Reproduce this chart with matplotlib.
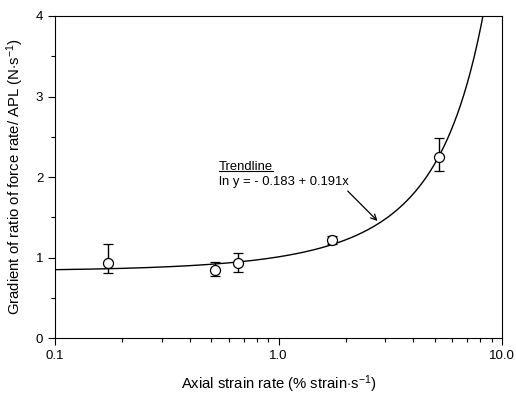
import numpy as np
import matplotlib
matplotlib.use("Agg")
import matplotlib.pyplot as plt
from matplotlib.ticker import FixedLocator, NullFormatter
from matplotlib.lines import Line2D

plt.rcParams['font.family'] = ['Liberation Sans', 'DejaVu Sans']
plt.rcParams['mathtext.fontset'] = 'custom'
plt.rcParams['mathtext.rm'] = 'Liberation Sans'
plt.rcParams['mathtext.it'] = 'Liberation Sans:italic'
plt.rcParams['mathtext.bf'] = 'Liberation Sans:bold'

# Data
strain_rate = [0.173, 0.52, 0.66, 1.74, 5.2]
gradient = [0.935, 0.84, 0.93, 1.22, 2.245]
err_low = [0.125, 0.065, 0.11, 0.05, 0.165]
err_high = [0.235, 0.10, 0.12, 0.05, 0.235]

# Trendline: ln y = a + b x
trend_a = -0.183
trend_b = 0.191

fig = plt.figure(figsize=(5.16, 3.94), dpi=100)
ax = fig.add_axes([0.1066, 0.1421, 0.8663, 0.8173])

xs = np.logspace(-1, 1, 400)
ax.plot(xs, np.exp(trend_a + trend_b * xs), color='black', lw=1.0, zorder=2)

ax.errorbar(strain_rate, gradient, yerr=[err_low, err_high], fmt='o',
            mfc='white', mec='black', ms=7.2, mew=0.9, ecolor='black',
            elinewidth=1.0, capsize=3.6, capthick=1.0, zorder=3)

ax.set_xscale('log')
ax.set_xlim(0.1, 10)
ax.set_ylim(0, 4)
ax.set_xticks([0.1, 1, 10])
ax.set_xticklabels(['0.1', '1.0', '10.0'])
ax.set_yticks([0, 1, 2, 3, 4])
ax.yaxis.set_minor_locator(FixedLocator([0.5, 1.5, 2.5, 3.5]))
ax.tick_params(which='both', direction='out', top=False, right=False,
               labelsize=9.5, width=0.8)
ax.tick_params(which='major', length=5)
ax.tick_params(which='minor', length=3)
ax.xaxis.set_minor_formatter(NullFormatter())
for s in ax.spines.values():
    s.set_linewidth(0.8)

ax.set_xlabel(r'Axial strain rate (% strain$\cdot$s$^{-1}$)', fontsize=10.7, labelpad=8)
ax.set_ylabel(r'Gradient of ratio of force rate/ APL (N$\cdot$s$^{-1}$)', fontsize=10.7, labelpad=7)

x_arrow = 2.83
ax.annotate('', xy=(x_arrow, np.exp(trend_a + trend_b * x_arrow)),
            xytext=(2.0, 1.85),
            arrowprops=dict(arrowstyle='->', color='black', lw=0.9))
t1 = ax.text(0.54, 2.12, 'Trendline', fontsize=9.4, va='center')
ax.text(0.54, 1.94, 'ln y = - 0.183 + 0.191x', fontsize=9.4, va='center')

fig.canvas.draw()
bb = t1.get_window_extent()
inv = fig.transFigure.inverted()
(x0, y0) = inv.transform((bb.x0, bb.y0 + 2))
(x1, _) = inv.transform((bb.x1, bb.y0 + 2))
fig.add_artist(Line2D([x0, x1], [y0, y0], color='black', lw=0.8, transform=fig.transFigure))

fig.savefig('out.png', dpi=100)
